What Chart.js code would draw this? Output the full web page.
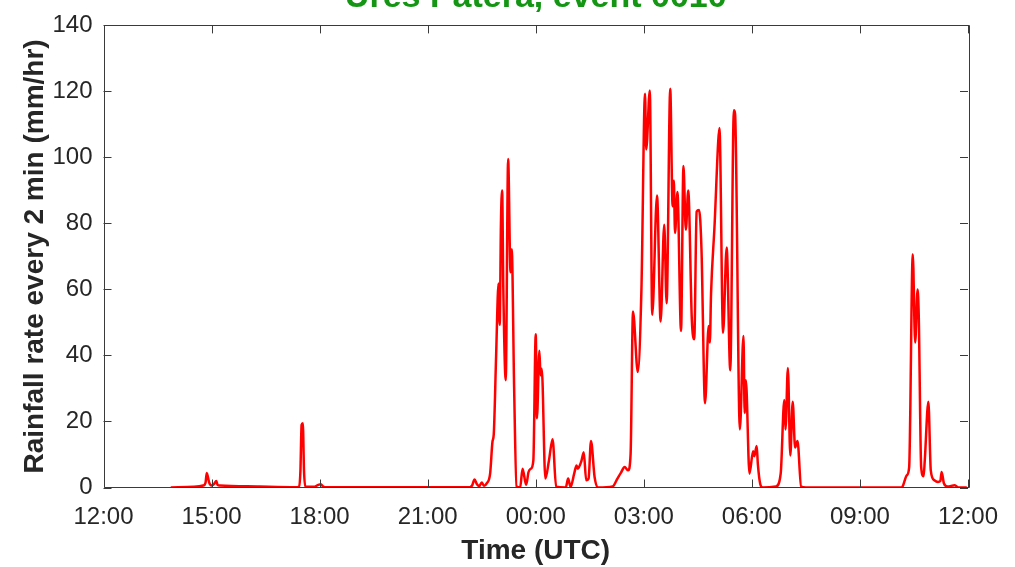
<!DOCTYPE html>
<html>
<head>
<meta charset="utf-8">
<script src="https://cdn.jsdelivr.net/npm/chart.js@4.4.1/dist/chart.umd.min.js"></script>
<style>
  html, body { margin: 0; padding: 0; background: #ffffff; }
  #wrap { width: 1015px; height: 567px; }
</style>
</head>
<body>
<div id="wrap"><canvas id="c" width="1015" height="567"></canvas></div>
<script>
// ---- DATA (UTC clock times, 12:00 -> 12:00 next day) ----
const chartTitle = "Ures Patera, event 0010";
const xAxisTitle = "Time (UTC)";
const yAxisTitle = "Rainfall rate every 2 min (mm/hr)";
const xTickLabels = ["12:00", "15:00", "18:00", "21:00", "00:00", "03:00", "06:00", "09:00", "12:00"];
const yTicks = [0, 20, 40, 60, 80, 100, 120, 140];

const times = [
  "13:52","14:30","14:46","14:50","14:52","14:56","15:00","15:04","15:08","15:10","15:14",
  "16:20","17:20","17:26","17:28","17:30","17:32","17:34","17:36","17:50","17:58","18:02","18:06","18:12",
  "22:10","22:14","22:18","22:22","22:26","22:30","22:34","22:38","22:44","22:48","22:50","22:54","22:58",
  "23:00","23:02","23:04","23:06","23:10","23:14","23:18","23:20","23:24","23:28","23:34","23:38","23:44",
  "23:48","23:52","23:56","00:00","00:02","00:06","00:08","00:10","00:16","00:22","00:28","00:34","00:50",
  "00:54","00:58","01:04","01:08","01:10","01:14","01:16","01:20","01:24","01:28","01:32","01:38","01:44",
  "02:08","02:16","02:22","02:28","02:34","02:38","02:42","02:50","02:56","03:02","03:04","03:10","03:14",
  "03:22","03:28","03:34","03:38","03:44","03:48","03:50","03:52","03:56","04:02","04:06","04:10","04:14",
  "04:20","04:24","04:28","04:32","04:36","04:42","04:48","04:50","04:52","04:58","05:04","05:06","05:12",
  "05:18","05:24","05:30","05:32","05:40","05:46","05:48","05:50","05:56","06:02","06:04","06:08","06:10",
  "06:14","06:18","06:40","06:48","06:54","06:56","07:00","07:04","07:08","07:12","07:16","07:22","07:30",
  "10:10","10:12","10:18","10:22","10:28","10:32","10:36","10:38","10:42","10:46","10:48","10:54","10:58",
  "11:04","11:10","11:14","11:16","11:20","11:26","11:38","11:44","11:58"
];
const rainRate = [
  0, 0.2, 0.6, 1.5, 4.4, 1.5, 0.6, 1.0, 2.0, 0.8, 0.6,
  0.3, 0.1, 0.3, 5, 19, 19.5, 5, 0.3, 0.2, 0.8, 1.0, 0.3, 0.1,
  0.1, 0.6, 2.4, 1.0, 0.4, 1.5, 0.5, 1.2, 4.2, 14, 16, 40, 61.8,
  49.3, 80, 90, 60, 32.5, 99.5, 65.2, 72.2, 30, 0.3, 0, 5.7, 0.8,
  4.7, 5.7, 8.2, 46.4, 21, 41.4, 34, 36, 2.7, 8.2, 14.6, 0.2, 0,
  2.7, 0.2, 4.2, 6.7, 5.7, 7, 8, 10.7, 2.2, 2.7, 14.1, 3.2, 0,
  0.3, 2.7, 4.5, 6.2, 5.2, 10.2, 53.3, 35, 59.8, 119.3, 102.4, 120.3, 52.3,
  88.5, 50.3, 79.6, 55.8, 120.8, 85.2, 93, 77.1, 89.5, 47.4, 97.4, 78.1, 90,
  50.8, 44.9, 83.6, 84.1, 72.5, 25.5, 48.9, 43.9, 58.8, 80, 105, 108.9, 46.9,
  72.7, 35.5, 114.3, 113.3, 17.6, 45.9, 22.6, 32.5, 4.2, 11, 9.5, 12.6, 7,
  1.0, 0, 0.3, 4.2, 26.5, 17.6, 36.2, 9.7, 26, 12.1, 14.1, 0.3, 0,
  0, 0.7, 3.7, 6.2, 70.7, 43.9, 60, 51.8, 6.2, 3.4, 8.2, 26, 5.2,
  2.2, 1.7, 2, 4.7, 1.2, 0.3, 0.7, 0, 0
];

// minutes after 12:00 UTC of the first day
function toMinutes(hhmm) {
  const [h, m] = hhmm.split(":").map(Number);
  let v = h * 60 + m - 720;
  if (v < 0) v += 1440;
  return v;
}
const points = times.map((t, i) => ({ x: toMinutes(t), y: rainRate[i] }));

const axisColor = "#262626";
const LEFT = 103.5, BOTTOM_H = 567 - 487.5;

const boxPlugin = {
  id: "boxAndTicks",
  afterDraw(chart) {
    const ctx = chart.ctx;
    const a = chart.chartArea;
    const xs = chart.scales.x, ys = chart.scales.y;
    ctx.save();
    ctx.strokeStyle = "#3a3a3a";
    ctx.lineWidth = 1;
    ctx.beginPath();
    ctx.rect(Math.round(a.left) + 0.5, Math.round(a.top) + 0.5,
             Math.round(a.right - a.left), Math.round(a.bottom - a.top));
    ctx.stroke();
    const tl = 8;
    ctx.beginPath();
    xs.ticks.forEach(t => {
      const px = Math.round(xs.getPixelForValue(t.value)) + 0.5;
      ctx.moveTo(px, a.bottom); ctx.lineTo(px, a.bottom - tl);
      ctx.moveTo(px, a.top); ctx.lineTo(px, a.top + tl);
    });
    ys.ticks.forEach(t => {
      const py = Math.round(ys.getPixelForValue(t.value)) + 0.5;
      ctx.moveTo(a.left, py); ctx.lineTo(a.left + tl, py);
      ctx.moveTo(a.right, py); ctx.lineTo(a.right - tl, py);
    });
    ctx.stroke();
    // title (partly above the visible canvas, as in the reference)
    ctx.fillStyle = "rgb(20,150,20)";
    ctx.font = "bold 34px 'Liberation Sans', Arial, sans-serif";
    ctx.textAlign = "center";
    ctx.textBaseline = "alphabetic";
    ctx.fillText(chartTitle, (a.left + a.right) / 2, 7);
    ctx.restore();
  }
};

new Chart(document.getElementById("c"), {
  type: "line",
  data: {
    datasets: [{
      data: points,
      borderColor: "#ff0000",
      borderWidth: 2.5,
      pointRadius: 0,
      fill: false,
      cubicInterpolationMode: "monotone",
      borderJoinStyle: "round"
    }]
  },
  options: {
    responsive: false,
    animation: false,
    devicePixelRatio: 1,
    layout: { padding: { top: 16.7, right: 47, left: 0, bottom: 0 } },
    plugins: { legend: { display: false }, tooltip: { enabled: false }, title: { display: false } },
    scales: {
      x: {
        type: "linear", min: 0, max: 1440,
        afterBuildTicks(scale) { scale.ticks = xTickLabels.map((_, i) => ({ value: i * 180 })); },
        ticks: {
          callback: (v) => xTickLabels[Math.round(v / 180)],
          color: axisColor,
          font: { family: "'Liberation Sans', Arial, sans-serif", size: 24 },
          padding: 15, maxRotation: 0, autoSkip: false
        },
        grid: { display: false, drawTicks: false },
        border: { display: false },
        title: {
          display: true, text: xAxisTitle, color: axisColor,
          font: { family: "'Liberation Sans', Arial, sans-serif", size: 28, weight: "bold" },
          padding: { top: 0, bottom: -1 }
        },
        afterFit(scale) { scale.height = BOTTOM_H; }
      },
      y: {
        type: "linear", min: 0, max: 140,
        afterBuildTicks(scale) { scale.ticks = yTicks.map(v => ({ value: v })); },
        ticks: {
          color: axisColor,
          font: { family: "'Liberation Sans', Arial, sans-serif", size: 24 },
          padding: 11
        },
        grid: { display: false, drawTicks: false },
        border: { display: false },
        title: {
          display: true, text: yAxisTitle, color: axisColor,
          font: { family: "'Liberation Sans', Arial, sans-serif", size: 28, weight: "bold" },
          padding: { top: 18, bottom: 0 }
        },
        afterFit(scale) { scale.width = LEFT; }
      }
    }
  },
  plugins: [boxPlugin]
});
</script>
</body>
</html>
